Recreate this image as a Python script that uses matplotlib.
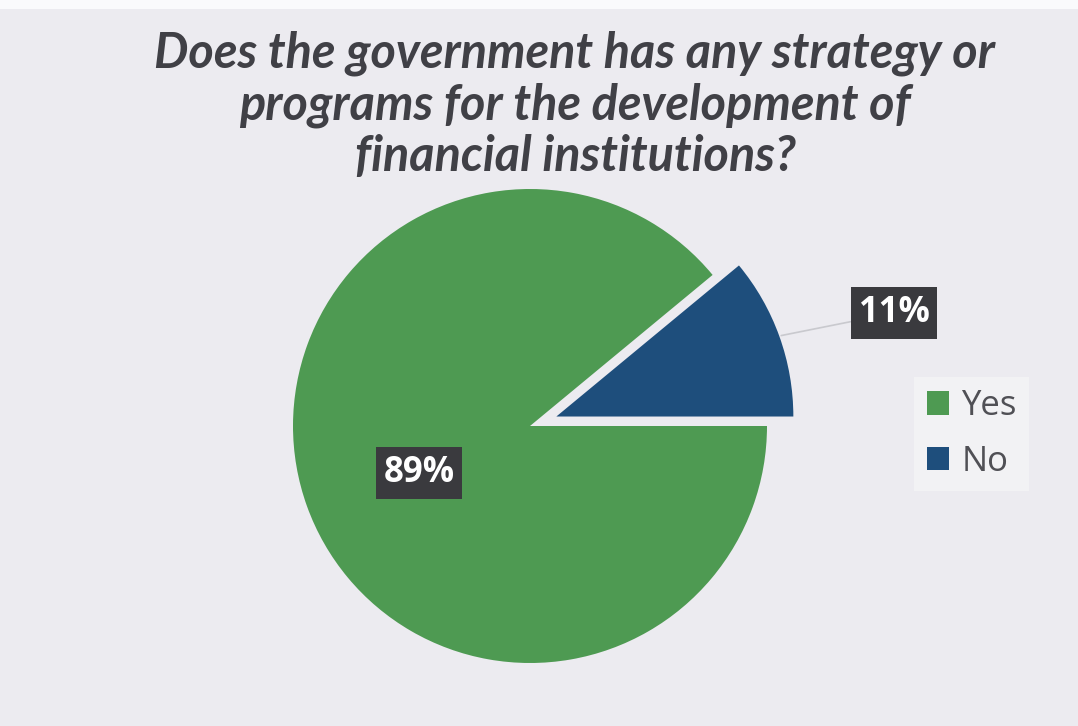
import matplotlib
matplotlib.use("Agg")
import matplotlib.pyplot as plt
from matplotlib.patches import Rectangle
import numpy as np

# Survey answers
categories = ["Yes", "No"]
shares = [89, 11]
colors = ["#4E9A52", "#1E4E7C"]
title = "Does the government has any strategy or\nprograms for the development of\nfinancial institutions?"

W, H = 1078, 726
fig = plt.figure(figsize=(W / 100, H / 100), dpi=100)
fig.patch.set_facecolor("#ECEBF0")
# pale strip along the top edge
fig.patches.append(Rectangle((0, 1 - 9 / H), 1, 9 / H, transform=fig.transFigure,
                             facecolor="#FAFAFC", edgecolor="none", zorder=0))

# Pie axes laid out in pixel units around the pie centre
cx, cy, half = 530, 426, 300
ax = fig.add_axes([(cx - half) / W, (H - cy - half) / H, 2 * half / W, 2 * half / H])

R = 237
pull = 28  # outward shift of the small slice, in pixels
wedges, _ = ax.pie(shares, colors=colors, startangle=360 * shares[1] / 100,
                   counterclock=True, radius=R, explode=[0, pull],
                   wedgeprops=dict(linewidth=0))
ax.set_xlim(-half, half)
ax.set_ylim(-half, half)
ax.set_aspect("equal")
ax.axis("off")

box = dict(boxstyle="square,pad=0.22", facecolor="#3A3A3E", edgecolor="none")
font_lbl = dict(family="Open Sans", fontsize=25, fontweight="bold", color="white")

# Yes label inside the green slice
ax.text(-111, -47, f"{shares[0]}%", ha="center", va="center", bbox=box, **font_lbl)

# No label outside with a leader line
mid = np.deg2rad(360 * shares[1] / 200)
ex = pull * np.cos(mid) + (R + 2) * np.cos(mid)
ey = pull * np.sin(mid) + (R + 2) * np.sin(mid)
ax.annotate(f"{shares[1]}%", xy=(ex, ey), xytext=(364, 113),
            ha="center", va="center", bbox=box, annotation_clip=False,
            arrowprops=dict(arrowstyle="-", color="#C9C9CE", lw=1.2,
                            shrinkA=0, shrinkB=0), **font_lbl)

fig.text(575 / W, 1 - 105 / H, title, ha="center", va="center",
         family="Lato", fontsize=35, fontweight="bold", fontstyle="italic",
         color="#404046", linespacing=1.17)

leg = fig.legend(wedges, categories, loc="center left",
                 bbox_to_anchor=(897 / W, 1 - 434 / H), frameon=True,
                 prop=dict(family="Open Sans", size=25), handlelength=0.65,
                 handleheight=0.65, handletextpad=0.35, labelspacing=0.62,
                 borderpad=0.35, labelcolor="#505055")
leg.get_frame().set_facecolor("#F4F4F6")
leg.get_frame().set_edgecolor("none")
leg.get_frame().set_boxstyle("square", pad=0)

fig.savefig("out.png", dpi=100, facecolor=fig.get_facecolor())
